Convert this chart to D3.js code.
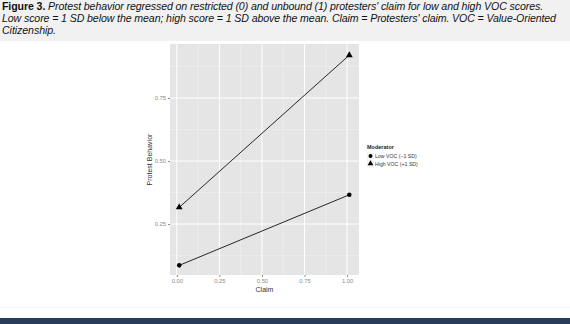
<!DOCTYPE html>
<html>
<head>
<meta charset="utf-8">
<script src="https://cdn.jsdelivr.net/npm/d3@7"></script>
<style>
  body { margin: 0; background: #fff; }
  svg { display: block; }
</style>
</head>
<body>
<div id="chart"></div>
<script>
// values
var claim = [0.014, 1.013];
var lowVOC = [0.086, 0.366];
var highVOC = [0.316, 0.92];
var seriesNames = ['Low VOC (\u22121 SD)', 'High VOC (+1 SD)'];
var xTicks = [0, 0.25, 0.5, 0.75, 1];
var yTicks = [0.25, 0.5, 0.75];
var captionLines = [
  ['Figure 3. ', 'Protest behavior regressed on restricted (0) and unbound (1) protesters\' claim for low and high VOC scores.'],
  ['', 'Low score = 1 SD below the mean; high score = 1 SD above the mean. Claim = Protesters\' claim. VOC = Value-Oriented'],
  ['', 'Citizenship.']
];
var captionEnds = [543, 557, 56];

var W = 570, H = 324;
var svg = d3.select('#chart').append('svg').attr('width', W).attr('height', H);

// caption box
svg.append('rect').attr('x', 0).attr('y', 0).attr('width', W).attr('height', 41).attr('fill', '#f1f1f1');
captionLines.forEach(function(l, i) {
  var t = svg.append('text')
    .attr('x', 2).attr('y', 10 + i * 12)
    .style('font-family', 'Liberation Sans, Arial, sans-serif')
    .style('font-size', '10.6px')
    .attr('fill', '#111');
  if (l[0]) t.append('tspan').style('font-weight', 'bold').text(l[0]);
  t.append('tspan').style('font-style', 'italic').text(l[1]);
  // stretch spacing so the line ends where it does in the figure
  var w = t.node().getBBox().width;
  var n = (l[0] + l[1]).length;
  t.style('letter-spacing', ((captionEnds[i] - 2 - w) / n) + 'px');
});

// bottom bar
svg.append('rect').attr('x', 0).attr('y', 318).attr('width', W).attr('height', 6).attr('fill', '#293c5a');
svg.append('line').attr('x1', 0).attr('x2', W).attr('y1', 307.5).attr('y2', 307.5)
  .attr('stroke', '#f4f4f4').attr('stroke-width', 1);

// panel
var pL = 170, pR = 359, pT = 44, pB = 275;
var x = d3.scaleLinear().domain([-0.04, 1.07]).range([pL, pR]);
var y = d3.scaleLinear().domain([0.0478, 0.9643]).range([pB, pT]);

var g = svg.append('g');
g.append('rect').attr('x', pL).attr('y', pT).attr('width', pR - pL).attr('height', pB - pT).attr('fill', '#e5e5e5');

var xMinor = xTicks.slice(0, -1).map(function(d, i) { return (d + xTicks[i + 1]) / 2; });
var yMinor = [0.125, 0.375, 0.625, 0.875];

g.selectAll('.xminor').data(xMinor).enter().append('line')
  .attr('x1', d => x(d)).attr('x2', d => x(d)).attr('y1', pT).attr('y2', pB)
  .attr('stroke', '#f2f2f2').attr('stroke-width', 0.5);
g.selectAll('.yminor').data(yMinor).enter().append('line')
  .attr('y1', d => y(d)).attr('y2', d => y(d)).attr('x1', pL).attr('x2', pR)
  .attr('stroke', '#f2f2f2').attr('stroke-width', 0.5);
g.selectAll('.xmajor').data(xTicks).enter().append('line')
  .attr('x1', d => x(d)).attr('x2', d => x(d)).attr('y1', pT).attr('y2', pB)
  .attr('stroke', '#fff').attr('stroke-width', 1);
g.selectAll('.ymajor').data(yTicks).enter().append('line')
  .attr('y1', d => y(d)).attr('y2', d => y(d)).attr('x1', pL).attr('x2', pR)
  .attr('stroke', '#fff').attr('stroke-width', 1);

// axes
var xAxis = d3.axisBottom(x).tickValues(xTicks).tickFormat(d3.format('.2f')).tickSize(2).tickPadding(2);
var yAxis = d3.axisLeft(y).tickValues(yTicks).tickFormat(d3.format('.2f')).tickSize(2).tickPadding(2);
var ax = svg.append('g').attr('transform', 'translate(0,' + pB + ')').call(xAxis);
var ay = svg.append('g').attr('transform', 'translate(' + pL + ',0)').call(yAxis);
[ax, ay].forEach(function(a) {
  a.select('.domain').remove();
  a.selectAll('line').attr('stroke', '#888');
  a.selectAll('text').attr('fill', '#8a8a8a').style('font-size', '5.8px')
    .style('font-family', 'Liberation Sans, Arial, sans-serif');
});

svg.append('text').attr('x', (pL + pR) / 2).attr('y', 292).attr('text-anchor', 'middle')
  .style('font-family', 'Liberation Sans, Arial, sans-serif').style('font-size', '7px').attr('fill', '#333')
  .text('Claim');
svg.append('text').attr('transform', 'translate(152,' + ((pT + pB) / 2) + ') rotate(-90)')
  .attr('text-anchor', 'middle')
  .style('font-family', 'Liberation Sans, Arial, sans-serif').style('font-size', '7px').attr('fill', '#333')
  .text('Protest Behavior');

// lines and points
var series = [lowVOC, highVOC];
var line = d3.line().x((d, i) => x(claim[i])).y(d => y(d));
series.forEach(function(s, k) {
  g.append('path').datum(s).attr('d', line).attr('fill', 'none').attr('stroke', '#111').attr('stroke-width', 0.9);
  var sym = d3.symbol().type(k === 0 ? d3.symbolCircle : d3.symbolTriangle).size(k === 0 ? 16 : 20);
  g.selectAll('.pt' + k).data(s).enter().append('path')
    .attr('transform', (d, i) => 'translate(' + x(claim[i]) + ',' + y(d) + ')')
    .attr('d', sym).attr('fill', '#000');
});

// legend
var lg = svg.append('g').attr('transform', 'translate(367,0)');
lg.append('text').attr('x', 0).attr('y', 149)
  .style('font-family', 'Liberation Sans, Arial, sans-serif').style('font-size', '5.5px').style('font-weight', 'bold')
  .attr('fill', '#222').text('Moderator');
seriesNames.forEach(function(n, k) {
  var yy = 156 + k * 7.6;
  lg.append('rect').attr('x', 0).attr('y', yy - 3.5).attr('width', 7).attr('height', 7).attr('fill', '#f2f2f2');
  lg.append('path').attr('transform', 'translate(3.5,' + yy + ')')
    .attr('d', d3.symbol().type(k === 0 ? d3.symbolCircle : d3.symbolTriangle).size(k === 0 ? 12 : 14)())
    .attr('fill', '#000');
  lg.append('text').attr('x', 8).attr('y', yy + 2)
    .style('font-family', 'Liberation Sans, Arial, sans-serif').style('font-size', '5.2px')
    .attr('fill', '#333').text(n);
});
</script>
</body>
</html>
